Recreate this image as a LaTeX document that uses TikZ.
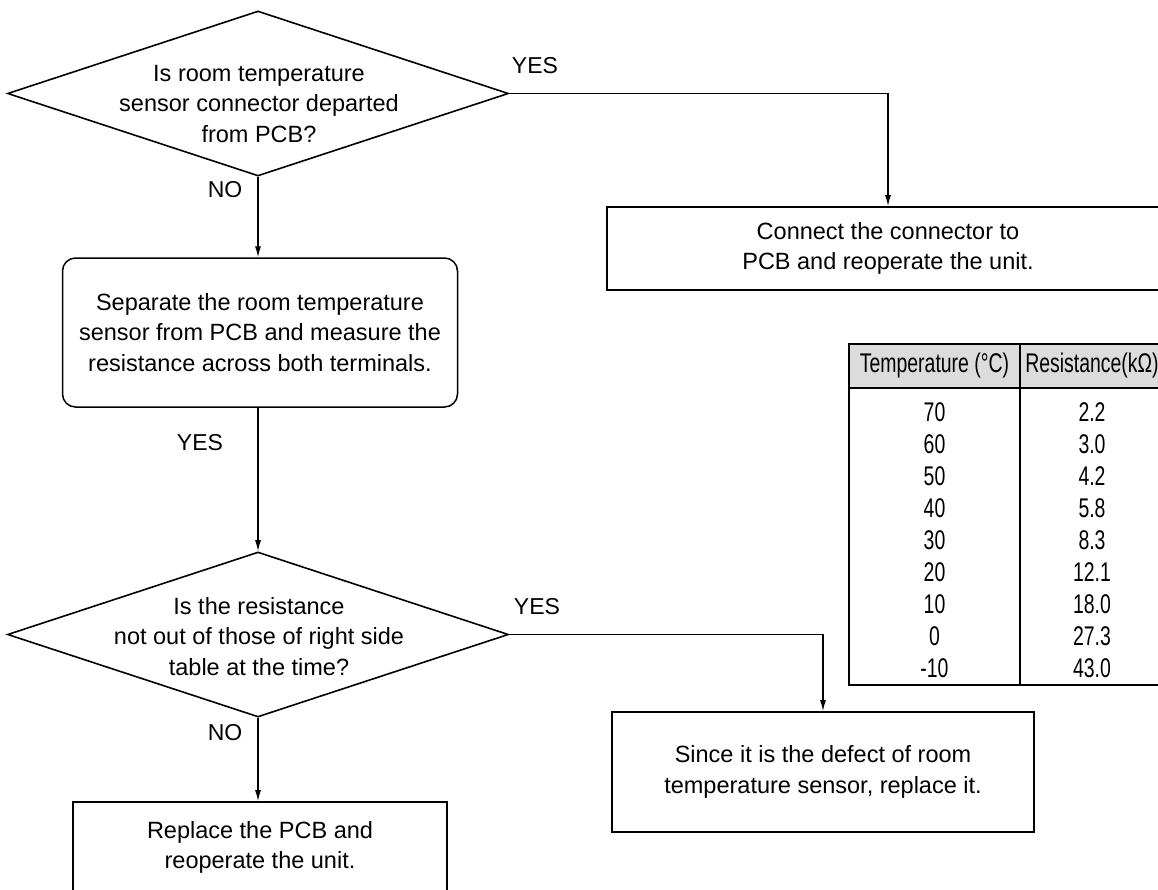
\documentclass[tikz,border=0pt]{standalone}
\usepackage{fontspec}
\setmainfont{Liberation Sans}
\newfontfamily\tabfont[FakeStretch=0.72]{Liberation Sans}
\usetikzlibrary{shapes.geometric,arrows.meta}
\definecolor{headgray}{RGB}{220,220,220}
\begin{document}
\begin{tikzpicture}[x=1pt,y=-1pt,
  txt/.style={font=\fontsize{23.5}{30.5}\selectfont, align=center},
  lbl/.style={font=\fontsize{23}{27}\selectfont, inner sep=0pt},
  decision/.style={draw, diamond, line width=1.6pt, inner sep=0pt},
  stepbox/.style={draw, rectangle, line width=1.8pt, inner sep=0pt, txt},
  arr/.style={line width=1.2pt, -{Latex[length=11pt,width=6pt]}},
  tab/.style={font=\tabfont\fontsize{27}{30}\selectfont, inner sep=0pt, anchor=center},
]
\clip (0,0) rectangle (1158,889);
\useasboundingbox (0,0) rectangle (1158,889);

% first decision
\node[decision, minimum width=501pt, minimum height=165pt] (d1) at (258,93.5) {};
\node[txt, inner sep=0pt] (d1t) at (259,104) {Is room temperature\\sensor connector departed\\from PCB?};

% reconnect action
\node[stepbox, minimum width=562pt, minimum height=83pt] (conn) at (888,248.5)
  {Connect the connector to\\PCB and reoperate the unit.};

% measuring step
\node[stepbox, rounded corners=13pt, line width=1.5pt, minimum width=395pt, minimum height=149pt] (sep) at (260,332.5)
  {Separate the room temperature\\sensor from PCB and measure the\\resistance across both terminals.};

% second decision
\node[decision, minimum width=501pt, minimum height=165pt] (d2) at (258,634.5) {};
\node[txt, inner sep=0pt] (d2t) at (259,636.5) {Is the resistance\\not out of those of right side\\table at the time?};

% sensor replacement
\node[stepbox, minimum width=422pt, minimum height=120pt] (since) at (823,772)
  {Since it is the defect of room\\temperature sensor, replace it.};

% PCB replacement
\node[stepbox, minimum width=374pt, minimum height=91pt] (repl) at (260,847.5)
  {Replace the PCB and\\reoperate the unit.};

% connectors
\draw[arr] (d1.east) -| (conn.north);
\draw[arr] (d1.south) -- (d1.south |- sep.north);
\draw[arr] (sep.south -| d1.south) -- (d2.north);
\draw[arr] (d2.east) -| (since.north);
\draw[arr] (d2.south) -- (d2.south |- repl.north);

% branch labels
\node[lbl] (y1) at (535,66) {YES};
\node[lbl] (n1) at (225,190) {NO};
\node[lbl] (y2) at (200,443) {YES};
\node[lbl] (y3) at (537,607) {YES};
\node[lbl] (n2) at (225,733) {NO};

% resistance table
\fill[headgray] (849,344) rectangle (1164,388);
\draw[line width=1.3pt] (849,344) rectangle (1164,685);
\draw[line width=1.3pt] (849,388) -- (1164,388);
\draw[line width=1.3pt] (1020,344) -- (1020,685);
\node[tab] (th1) at (934.5,366) {Temperature (°C)};
\node[tab] (th2) at (1092,366) {Resistance(kΩ)};
\foreach \t/\r [count=\i from 0] in {70/2.2,60/3.0,50/4.2,40/5.8,30/8.3,20/12.1,10/18.0,0/27.3,-10/43.0}{
  \node[tab] (tc\i) at (934.5,412+32*\i) {\t};
  \node[tab] (rc\i) at (1092,412+32*\i) {\r};
}
\end{tikzpicture}
\end{document}
